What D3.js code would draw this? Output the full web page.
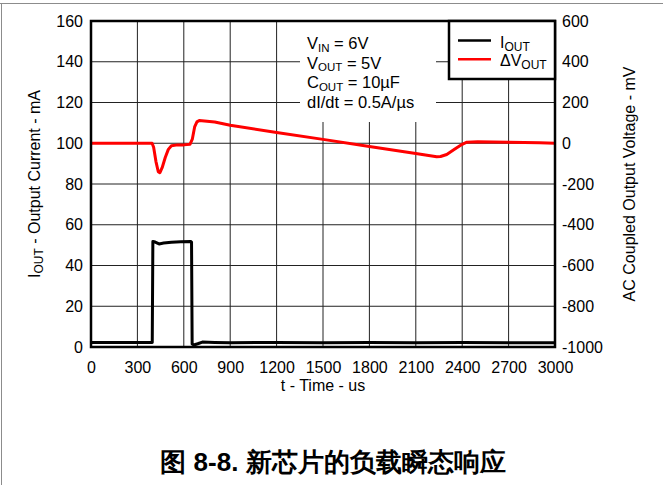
<!DOCTYPE html>
<html>
<head>
<meta charset="utf-8">
<script src="https://cdn.jsdelivr.net/npm/d3@7"></script>
<style>
  html, body { margin: 0; padding: 0; background: #fff; }
  svg { display: block; }
  text { font-family: "Liberation Sans", Arial, sans-serif; fill: #000; }
</style>
</head>
<body>
<svg id="chart" width="663" height="485"></svg>
<script>
// Readings taken off the reference scope capture
const x_ticks = [0, 300, 600, 900, 1200, 1500, 1800, 2100, 2400, 2700, 3000];
const left_ticks = [0, 20, 40, 60, 80, 100, 120, 140, 160];
const right_ticks = [-1000, -800, -600, -400, -200, 0, 200, 400, 600];

// Output current (mA) vs time (us)
const iout_time = [0, 100, 200, 300, 396, 400, 415, 440, 470, 520, 580, 645, 650, 654, 665, 690, 720, 800, 900, 1200, 1500, 1800, 2100, 2400, 2700, 3000];
const iout_ma   = [2.2, 2.2, 2.2, 2.2, 2.2, 51.8, 51.5, 50.6, 51.0, 51.4, 51.6, 51.8, 51.5, 1.5, 1.0, 1.6, 2.4, 2.2, 2.1, 2.2, 2.1, 2.2, 2.1, 2.2, 2.1, 2.1];

// AC coupled output voltage (mV) vs time (us)
const vout_time = [0, 100, 200, 300, 395, 405, 420, 435, 445, 460, 480, 500, 520, 560, 600, 640, 655, 670, 685, 700, 750, 800, 900, 1200, 1500, 1800, 2100, 2235, 2260, 2300, 2350, 2400, 2430, 2500, 2700, 2900, 3000];
const vout_mv   = [0, 0, 0, 0, 0, -20, -90, -140, -145, -120, -70, -30, -12, -8, -8, -5, 20, 80, 105, 112, 108, 104, 88, 53, 19, -16, -50, -66, -65, -55, -30, -5, 5, 7, 5, 3, 0];

const notes = [
    ["V", "IN", " = 6V"],
    ["V", "OUT", " = 5V"],
    ["C", "OUT", " = 10\u00b5F"],
    ["dI/dt = 0.5A/\u00b5s", "", ""]
];
const legend_items = [
    { pre: "I", sub: "OUT", color: "#000" },
    { pre: "\u0394V", sub: "OUT", color: "#ff0000" }
];

const svg = d3.select("#chart");

// Plot box
const plot_left = 91, plot_right = 555, plot_top = 21, plot_bottom = 347;

const x = d3.scaleLinear().domain([0, 3000]).range([plot_left, plot_right]);
const y_left = d3.scaleLinear().domain([0, 160]).range([plot_bottom, plot_top]);
const y_right = d3.scaleLinear().domain([-1000, 600]).range([plot_bottom, plot_top]);

// Page frame lines
svg.append("line").attr("x1", 0).attr("x2", 663).attr("y1", 3.5).attr("y2", 3.5)
    .attr("stroke", "#8c8c8c").attr("stroke-width", 1);
svg.append("line").attr("x1", 1.5).attr("x2", 1.5).attr("y1", 3).attr("y2", 485)
    .attr("stroke", "#8c8c8c").attr("stroke-width", 1);

// Grid
const grid = svg.append("g");
grid.selectAll("line.v")
    .data(x_ticks.slice(1, -1))
    .enter().append("line")
    .attr("x1", d => x(d)).attr("x2", d => x(d))
    .attr("y1", plot_top).attr("y2", plot_bottom)
    .attr("stroke", "#222").attr("stroke-width", 1);
grid.selectAll("line.h")
    .data(left_ticks.slice(1, -1))
    .enter().append("line")
    .attr("x1", plot_left).attr("x2", plot_right)
    .attr("y1", d => y_left(d)).attr("y2", d => y_left(d))
    .attr("stroke", "#222").attr("stroke-width", 1);

// Conditions block (white background hides grid)
svg.append("rect").attr("x", 300).attr("y", plot_top).attr("width", 136).attr("height", 101).attr("fill", "#fff");
const note_g = svg.append("g").attr("font-size", 16.5);
notes.forEach((parts, i) => {
    const t = note_g.append("text").attr("x", 307).attr("y", 49 + i * 19.5);
    t.append("tspan").text(parts[0]);
    if (parts[1]) {
        t.append("tspan").attr("font-size", 11.5).attr("dy", 2.5).text(parts[1]);
        t.append("tspan").attr("dy", -2.5).text(parts[2]);
    }
});

// Traces
const line_i = d3.line().x(d => x(d[0])).y(d => y_left(d[1]));
const line_v = d3.line().x(d => x(d[0])).y(d => y_right(d[1]));

svg.append("path")
    .datum(iout_time.map((t, i) => [t, iout_ma[i]]))
    .attr("d", line_i)
    .attr("fill", "none").attr("stroke", "#000").attr("stroke-width", 3)
    .attr("stroke-linejoin", "round");
svg.append("path")
    .datum(vout_time.map((t, i) => [t, vout_mv[i]]))
    .attr("d", line_v)
    .attr("fill", "none").attr("stroke", "#ff0000").attr("stroke-width", 3)
    .attr("stroke-linejoin", "round");

// Border
svg.append("rect").attr("x", plot_left).attr("y", plot_top)
    .attr("width", plot_right - plot_left).attr("height", plot_bottom - plot_top)
    .attr("fill", "none").attr("stroke", "#000").attr("stroke-width", 2.5);

// Legend
const lg = svg.append("g");
lg.append("rect").attr("x", 449).attr("y", plot_top).attr("width", plot_right - 449).attr("height", 58)
    .attr("fill", "#fff").attr("stroke", "#000").attr("stroke-width", 2.5);
legend_items.forEach((d, i) => {
    const yy = 40.5 + i * 18.8;
    lg.append("line").attr("x1", 458).attr("x2", 491).attr("y1", yy).attr("y2", yy)
        .attr("stroke", d.color).attr("stroke-width", 2.5);
    const t = lg.append("text").attr("x", 500).attr("y", yy + 7).attr("font-size", 16);
    t.append("tspan").text(d.pre);
    t.append("tspan").attr("font-size", 12).attr("dy", 3).text(d.sub);
});

// Axes
const fmt = d => String(d);
const ax_left = svg.append("g").attr("transform", `translate(${plot_left},0)`)
    .call(d3.axisLeft(y_left).tickValues(left_ticks).tickSize(0).tickPadding(8).tickFormat(fmt));
const ax_right = svg.append("g").attr("transform", `translate(${plot_right},0)`)
    .call(d3.axisRight(y_right).tickValues(right_ticks).tickSize(0).tickPadding(7).tickFormat(fmt));
const ax_bottom = svg.append("g").attr("transform", `translate(0,${plot_bottom})`)
    .call(d3.axisBottom(x).tickValues(x_ticks).tickSize(0).tickPadding(15).tickFormat(fmt));
[ax_left, ax_right, ax_bottom].forEach(g => {
    g.select(".domain").remove();
    g.selectAll("text").attr("font-size", 16).attr("font-family", "Liberation Sans, Arial, sans-serif").attr("fill", "#000");
});

// Axis titles
svg.append("text").attr("x", (plot_left + plot_right) / 2).attr("y", 391).attr("text-anchor", "middle")
    .attr("font-size", 16).text("t - Time - us");

const lt = svg.append("text").attr("transform", `translate(40,${(plot_top + plot_bottom) / 2}) rotate(-90)`)
    .attr("text-anchor", "middle").attr("font-size", 16);
lt.append("tspan").text("I");
lt.append("tspan").attr("font-size", 12).attr("dy", 3).text("OUT");
lt.append("tspan").attr("dy", -3).text(" - Output Current - mA");

svg.append("text").attr("transform", `translate(635,${(plot_top + plot_bottom) / 2}) rotate(-90)`)
    .attr("text-anchor", "middle").attr("font-size", 16).text("AC Coupled Output Voltage - mV");

// Caption
svg.append("text").attr("x", 333).attr("y", 471).attr("text-anchor", "middle")
    .attr("font-size", 26).attr("font-weight", "bold")
    .attr("font-family", "Liberation Sans, 'Noto Sans CJK SC', sans-serif")
    .text("\u56fe 8-8. \u65b0\u82af\u7247\u7684\u8d1f\u8f7d\u77ac\u6001\u54cd\u5e94");
</script>
</body>
</html>
